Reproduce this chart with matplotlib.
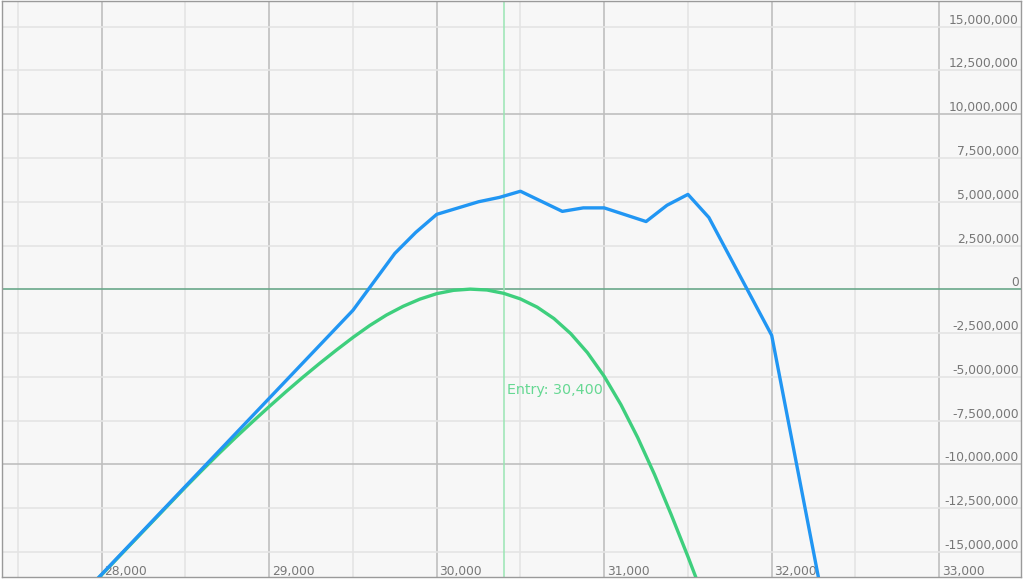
import numpy as np
import matplotlib
matplotlib.use("Agg")
import matplotlib.pyplot as plt
import matplotlib.transforms as mtransforms

# expiry payoff (blue) - price, P&L
expiry_price = [27500, 29500, 29750, 29875, 30000, 30250, 30375, 30500, 30750,
                30875, 31000, 31250, 31375, 31500, 31625, 32000, 32500]
expiry_pnl = [-21.3e6, -1.2e6, 2.05e6, 3.25e6, 4.28e6, 5.0e6, 5.25e6, 5.6e6, 4.45e6,
              4.65e6, 4.65e6, 3.87e6, 4.8e6, 5.42e6, 4.1e6, -2.63e6, -27.4e6]

# current (T+0) payoff (green)
now_price = [27500, 27750, 28000, 28250, 28400, 28500, 28600, 28700, 28800, 28900,
             29000, 29100, 29200, 29300, 29400, 29500, 29600, 29700, 29800, 29900,
             30000, 30100, 30200, 30300, 30400, 30500, 30600, 30700, 30800, 30900,
             31000, 31100, 31200, 31300, 31400, 31500, 31600, 31700]
now_pnl = [-21.3e6, -18.8e6, -16.3e6, -13.8e6, -12.3e6, -11.3e6, -10.33e6, -9.38e6, -8.46e6, -7.57e6,
           -6.70e6, -5.85e6, -5.03e6, -4.24e6, -3.48e6, -2.75e6, -2.07e6, -1.47e6, -0.97e6, -0.56e6,
           -0.25e6, -0.06e6, 0.01e6, -0.04e6, -0.23e6, -0.55e6, -1.02e6, -1.67e6, -2.53e6, -3.62e6,
           -4.97e6, -6.59e6, -8.47e6, -10.57e6, -12.87e6, -15.27e6, -17.77e6, -20.37e6]

entry_price = 30400

x_ticks = [28000, 29000, 30000, 31000, 32000, 33000]
x_minor = [27500, 28500, 29500, 30500, 31500, 32500]
y_ticks = [15e6, 12.5e6, 10e6, 7.5e6, 5e6, 2.5e6, 0, -2.5e6, -5e6, -7.5e6,
           -10e6, -12.5e6, -15e6]
y_major = [10e6, -10e6]

fig = plt.figure(figsize=(10.24, 5.79), dpi=100)
fig.patch.set_facecolor("white")
ax = fig.add_axes([0.0015, 0.0035, 0.996, 0.994])
ax.set_facecolor("#f7f7f7")
ax.set_xlim(27402, 33491)
ax.set_ylim(-16.43e6, 16.44e6)

for s in ax.spines.values():
    s.set_color("#9a9a9a")
    s.set_linewidth(1)
ax.set_xticks([])
ax.set_yticks([])

# grid
for x in x_minor:
    ax.axvline(x, color="#e4e4e4", lw=1.2, zorder=0)
for x in x_ticks:
    ax.axvline(x, color="#bfbfbf", lw=1.2, zorder=0)
for y in y_ticks:
    if y in y_major:
        ax.axhline(y, color="#bfbfbf", lw=1.2, zorder=0)
    elif y != 0:
        ax.axhline(y, color="#e4e4e4", lw=1.2, zorder=0)
ax.axhline(0, color="#6aa88a", lw=1.2, zorder=1)

# entry
ax.axvline(entry_price, color="#9ae6b4", lw=1.1, zorder=1)
trans = mtransforms.blended_transform_factory(ax.transData, ax.transAxes)
ax.annotate("Entry: {:,}".format(entry_price), xy=(entry_price, 0.325), xycoords=trans,
            xytext=(2.5, 0), textcoords="offset points",
            ha="left", va="center", color="#66d893", fontsize=10.3)

ax.plot(now_price, now_pnl, color="#3ecf7d", lw=2.4, zorder=3, solid_joinstyle="round")
ax.plot(expiry_price, expiry_pnl, color="#2196f3", lw=2.4, zorder=4, solid_joinstyle="round")

# tick labels drawn inside the plot
ytrans = mtransforms.blended_transform_factory(ax.transAxes, ax.transData)
for y in y_ticks:
    ax.text(0.9975, y, "{:,.0f}".format(y), transform=ytrans, ha="right", va="bottom",
            color="#777777", fontsize=8.8)
for x in x_ticks:
    ax.annotate("{:,}".format(x), xy=(x, 0), xycoords=trans, xytext=(2, -1),
                textcoords="offset points", ha="left", va="bottom",
                color="#777777", fontsize=8.8)

fig.savefig("out.png", dpi=100)
